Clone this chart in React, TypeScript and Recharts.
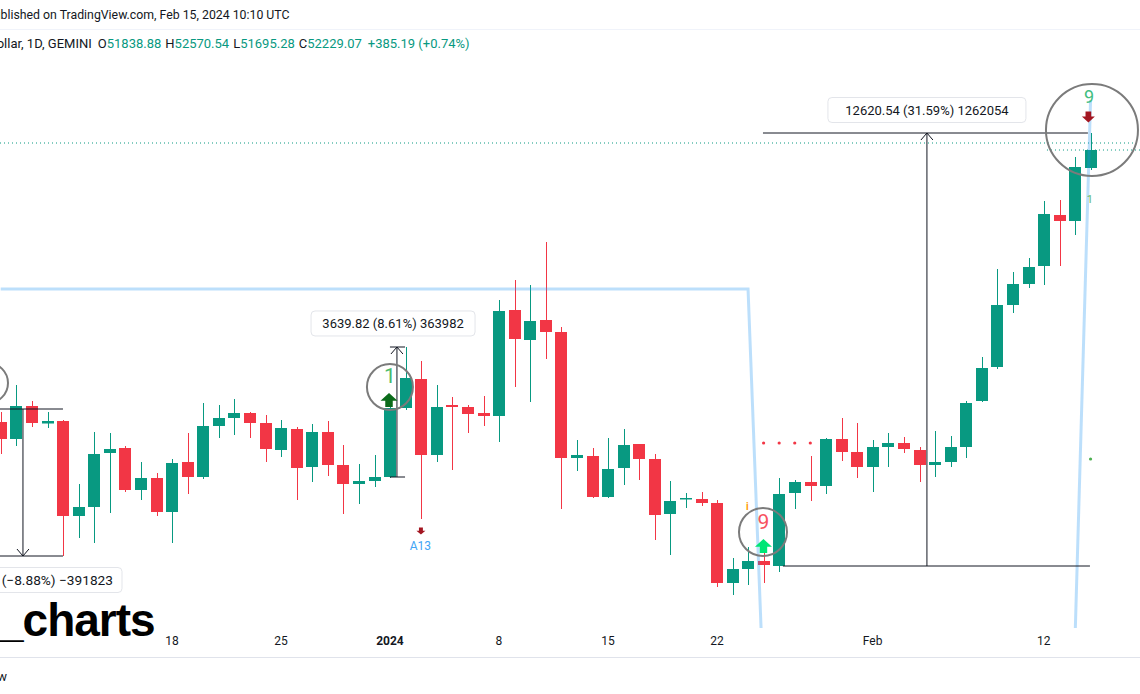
import React from 'react'
import {
  Bar,
  ComposedChart,
  Line,
  ReferenceDot,
  ReferenceLine,
  Scatter,
  XAxis,
  YAxis,
} from 'recharts'

// one candle per day, Dec 7 2023 .. Feb 15 2024 (BTC/USD, 1D, GEMINI)
const days = [
  'Dec 7', 'Dec 8', 'Dec 9', 'Dec 10', 'Dec 11', 'Dec 12', 'Dec 13', 'Dec 14', 'Dec 15', 'Dec 16',
  'Dec 17', 'Dec 18', 'Dec 19', 'Dec 20', 'Dec 21', 'Dec 22', 'Dec 23', 'Dec 24', 'Dec 25', 'Dec 26',
  'Dec 27', 'Dec 28', 'Dec 29', 'Dec 30', 'Dec 31', 'Jan 1', 'Jan 2', 'Jan 3', 'Jan 4', 'Jan 5',
  'Jan 6', 'Jan 7', 'Jan 8', 'Jan 9', 'Jan 10', 'Jan 11', 'Jan 12', 'Jan 13', 'Jan 14', 'Jan 15',
  'Jan 16', 'Jan 17', 'Jan 18', 'Jan 19', 'Jan 20', 'Jan 21', 'Jan 22', 'Jan 23', 'Jan 24', 'Jan 25',
  'Jan 26', 'Jan 27', 'Jan 28', 'Jan 29', 'Jan 30', 'Jan 31', 'Feb 1', 'Feb 2', 'Feb 3', 'Feb 4',
  'Feb 5', 'Feb 6', 'Feb 7', 'Feb 8', 'Feb 9', 'Feb 10', 'Feb 11', 'Feb 12', 'Feb 13', 'Feb 14',
  'Feb 15',
]

const opens = [
  44202, 43709, 44666, 44158, 44231, 41476, 41737, 43303, 43448, 42230,
  42578, 41592, 43042, 42607, 44086, 44318, 44463, 44173, 43390, 43999,
  42897, 43912, 42955, 42404, 42491, 42607, 44608, 45449, 43245, 44695,
  44637, 44463, 44376, 47450, 46580, 47160, 46812, 43158, 43216, 42027,
  42868, 43564, 43129, 41534, 41955, 41969, 41853, 39533, 39939, 40171,
  40026, 42143, 42462, 42346, 43709, 43332, 42897, 43477, 43593, 43390,
  42955, 43042, 43477, 44811, 45797, 47595, 48204, 48726, 50205, 50031,
  51568,
]
const highs = [
  44492, 45275, 44811, 44492, 44260, 42404, 43912, 43883, 43506, 43042,
  42723, 43129, 43883, 44753, 44695, 44869, 44492, 44405, 44260, 44057,
  44144, 44231, 43535, 42984, 43245, 44840, 46377, 45971, 45275, 44927,
  44695, 44956, 47740, 48320, 48175, 49422, 46957, 43680, 43448, 43738,
  43999, 43564, 43274, 42491, 42143, 42172, 41940, 40258, 40577, 40403,
  42578, 42520, 43216, 43738, 44318, 44173, 43680, 43883, 43767, 43477,
  43941, 43796, 44811, 46087, 48639, 48552, 48958, 50611, 50640, 51887,
  52583,
]
const lows = [
  43274, 43506, 44057, 44028, 40316, 40838, 40693, 41563, 42172, 41940,
  41476, 40693, 42114, 42549, 43738, 43825, 43738, 43042, 43187, 41940,
  42462, 42636, 41534, 41824, 42317, 42578, 44550, 41389, 43042, 42810,
  43883, 44086, 43622, 45217, 44782, 46029, 41679, 42781, 41998, 41998,
  42375, 42520, 40780, 40345, 41708, 41766, 39417, 39185, 39475, 39533,
  39852, 41679, 41911, 42114, 43071, 42578, 42172, 42897, 43303, 42462,
  42607, 42897, 43158, 44782, 45739, 47363, 48088, 48175, 48726, 49625,
  51510,
]
const closes = [
  43709, 44666, 44173, 44231, 41476, 41737, 43274, 43419, 42230, 42578,
  41592, 43013, 42607, 44086, 44318, 44463, 44173, 43419, 44028, 42868,
  43912, 42955, 42404, 42491, 42607, 44608, 45478, 43245, 44637, 44637,
  44434, 44376, 47421, 46609, 47131, 46812, 43158, 43245, 42027, 42839,
  43535, 43129, 41505, 41911, 41998, 41853, 39533, 39939, 40171, 40055,
  42114, 42462, 42346, 43709, 43332, 42897, 43477, 43593, 43419, 42955,
  43042, 43477, 44753, 45768, 47595, 48204, 48697, 50234, 50031, 51597,
  52090,
]

// light blue indicator line (drops off the pane between Jan 25 and Feb 14)
const bandLine = [
  48059, 48059, 48059, 48059, 48059, 48059, 48059, 48059, 48059, 48059,
  48059, 48059, 48059, 48059, 48059, 48059, 48059, 48059, 48059, 48059,
  48059, 48059, 48059, 48059, 48059, 48059, 48059, 48059, 48059, 48059,
  48059, 48059, 48059, 48059, 48059, 48059, 48059, 48059, 48059, 48059,
  48059, 48059, 48059, 48059, 48059, 48059, 48059, 48059, 48059, 36300,
  null, null, null, null, null, null, null, null, null, null,
  null, null, null, null, null, null, null, null, null, 37880,
  53540,
]

const redDots = [
  { day: 49, value: 43593 },
  { day: 50, value: 43593 },
  { day: 51, value: 43593 },
  { day: 52, value: 43593 },
]
const greenDots = [{ day: 70, value: 43129 }]

const tickDays = [11, 18, 25, 32, 39, 46, 56, 67]
const tickLabels = ['18', '25', '2024', '8', '15', '22', 'Feb', '12']

const rows = days.map((label, i) => ({
  day: i,
  label,
  open: opens[i],
  high: highs[i],
  low: lows[i],
  close: closes[i],
  band: bandLine[i],
}))

const GREEN = '#089981'
const RED = '#F23645'
const INK = '#131722'
const FONT = 'Roboto, "Noto Sans", sans-serif'

function Candle(props: any) {
  const { x, y, width, height, payload } = props
  if (!payload || x == null || y == null) return null
  const { open, close, high, low } = payload
  const top = Math.min(y, y + height)
  const bottom = Math.max(y, y + height)
  const k = high === low ? 0 : (bottom - top) / (high - low)
  const yOf = (v: number) => top + (high - v) * k
  const color = close >= open ? GREEN : RED
  const cx = Math.round(x + width / 2) + 0.5
  const bodyTop = yOf(Math.max(open, close))
  const bodyH = Math.max(1, yOf(Math.min(open, close)) - bodyTop)
  return (
    <g>
      <line x1={cx} x2={cx} y1={top} y2={bottom} stroke={color} strokeWidth={1} />
      <rect x={cx - 6.5} y={bodyTop} width={12} height={bodyH} fill={color} />
    </g>
  )
}

function DayTick({ x, y, payload }: any) {
  const label = tickLabels[tickDays.indexOf(payload.value)]
  return (
    <text x={x} y={y} dy={17} textAnchor="middle" fontSize={12} fontFamily={FONT}
      fontWeight={label === '2024' ? 700 : 400} fill={INK}>
      {label}
    </text>
  )
}

function Arrow({ cx, cy, w, h, color, dir }: any) {
  const hw = w / 2
  const sw = w * 0.22
  const head = h * 0.55
  const s = dir === 'up' ? 1 : -1
  const tip = cy - (s * h) / 2
  const base = tip + s * head
  const end = cy + (s * h) / 2
  const d = `M${cx - hw},${base} L${cx},${tip} L${cx + hw},${base} L${cx + sw},${base} L${cx + sw},${end} L${cx - sw},${end} L${cx - sw},${base} Z`
  return <path d={d} fill={color} />
}

function Chevron({ cx, cy, dir }: any) {
  const s = dir === 'up' ? 1 : -1
  return (
    <polyline points={`${cx - 6},${cy + s * 7} ${cx},${cy} ${cx + 6},${cy + s * 7}`}
      fill="none" stroke={INK} strokeWidth={1} />
  )
}

function Ring({ cx, cy, r }: any) {
  return <circle cx={cx} cy={cy} r={r} fill="none" stroke="#7b7b7b" strokeWidth={2} />
}

function Glyph({ cx, cy, text, size, color, weight }: any) {
  return (
    <text x={cx} y={cy} textAnchor="middle" dominantBaseline="central" fontSize={size}
      fontFamily={FONT} fontWeight={weight || 400} fill={color}>
      {text}
    </text>
  )
}

function MeasureBox({ cx, cy, text, w, anchor, size }: any) {
  const left = anchor === 'right' ? cx - w : cx - w / 2
  return (
    <g>
      <rect x={left} y={cy - 12.5} width={w} height={25} rx={4} fill="#fff"
        stroke="#e3e5ea" strokeWidth={1} />
      <text x={anchor === 'right' ? cx - 9 : cx} y={cy} textAnchor={anchor === 'right' ? 'end' : 'middle'}
        dominantBaseline="central" fontSize={size || 13} fontFamily={FONT} fill={INK}>
        {text}
      </text>
    </g>
  )
}

const seg = (x1: number, y1: number, x2: number, y2: number) => [
  { x: x1, y: y1 },
  { x: x2, y: y2 },
]

export default function App() {
  const spot = (x: number, y: number, shape: any) => (
    <ReferenceDot x={x} y={y} r={0} ifOverflow="visible" shape={shape} />
  )
  const rule = (s: any) => (
    <ReferenceLine segment={s} stroke={INK} strokeWidth={1} ifOverflow="visible" />
  )

  return (
    <div style={{ position: 'fixed', left: 0, top: 0, width: 1140, height: 694, overflow: 'hidden', background: '#fff', fontFamily: FONT, color: INK }}>
      <div style={{ position: 'absolute', left: -14, top: 8, fontSize: 12.3, whiteSpace: 'nowrap' }}>
        Published on TradingView.com, Feb 15, 2024 10:10 UTC
      </div>
      <div style={{ position: 'absolute', left: 0, top: 29, width: 1140, height: 1, background: '#f0f3fa' }} />
      <div style={{ position: 'absolute', left: -90, top: 36, fontSize: 13, whiteSpace: 'nowrap' }}>
        <span>Bitcoin / U.S. Dollar, 1D, GEMINI</span>
        <span style={{ marginLeft: 6 }}>O<span style={{ color: GREEN }}>51838.88</span></span>
        <span style={{ marginLeft: 4 }}>H<span style={{ color: GREEN }}>52570.54</span></span>
        <span style={{ marginLeft: 4 }}>L<span style={{ color: GREEN }}>51695.28</span></span>
        <span style={{ marginLeft: 4 }}>C<span style={{ color: GREEN }}>52229.07</span></span>
        <span style={{ marginLeft: 6, color: GREEN }}>+385.19 (+0.74%)</span>
      </div>

      <ComposedChart width={1140} height={694} data={rows}
        margin={{ top: 60, right: 0, bottom: 37, left: 0 }}
        style={{ position: 'absolute', left: 0, top: 0 }}>
        <XAxis type="number" dataKey="day" domain={[-0.045, 73.175]} allowDataOverflow
          ticks={tickDays} interval={0} tick={<DayTick />} axisLine={false} tickLine={false}
          tickSize={0} tickMargin={0} height={29} />
        <YAxis hide type="number" domain={[38228, 54700]} allowDataOverflow />

        <ReferenceLine y={52293} stroke={GREEN} strokeDasharray="1 3" ifOverflow="visible" />
        <ReferenceLine segment={seg(67.2, 52090, 73.175, 52090)} stroke={GREEN}
          strokeDasharray="1 3" ifOverflow="visible" />

        <Bar dataKey={(d: any) => [d.low, d.high]} barSize={12} isAnimationActive={false}
          shape={(p: any) => <Candle {...p} />} />

        <Line dataKey="band" type="linear" stroke="#2196f3" strokeOpacity={0.3} strokeWidth={3}
          dot={false} connectNulls={false} isAnimationActive={false} />

        <Scatter data={redDots} dataKey="value" isAnimationActive={false}
          shape={(p: any) => <circle cx={p.cx} cy={p.cy} r={1.6} fill={RED} />} />
        <Scatter data={greenDots} dataKey="value" isAnimationActive={false}
          shape={(p: any) => <circle cx={p.cx} cy={p.cy} r={1.6} fill="#4caf50" />} />

        {/* left measure */}
        {rule(seg(-0.4, 44579, 4.0, 44579))}
        {rule(seg(-0.4, 40316, 4.0, 40316))}
        {rule(seg(1.43, 44579, 1.43, 40316))}
        {spot(1.43, 40316, (p: any) => <Chevron cx={p.cx} cy={p.cy} dir="down" />)}
        {spot(7.79, 39620, (p: any) => <MeasureBox cx={p.cx} cy={p.cy} w={205} anchor="right" size={13.7} text="−3918.23 (−8.88%) −391823" />)}

        {/* middle measure */}
        {rule(seg(25.0, 46377, 25.97, 46377))}
        {rule(seg(25.0, 42607, 25.97, 42607))}
        {rule(seg(25.45, 46377, 25.45, 42607))}
        {spot(25.45, 46377, (p: any) => <Chevron cx={p.cx} cy={p.cy} dir="up" />)}
        {spot(25.2, 47059, (p: any) => <MeasureBox cx={p.cx} cy={p.cy} w={164} text="3639.82 (8.61%) 363982" />)}

        {/* big measure */}
        {rule(seg(48.96, 52583, 69.83, 52583))}
        {rule(seg(50.24, 40026, 69.96, 40026))}
        {rule(seg(59.49, 52583, 59.49, 40026))}
        {spot(59.49, 52583, (p: any) => <Chevron cx={p.cx} cy={p.cy} dir="up" />)}
        {spot(59.49, 53250, (p: any) => <MeasureBox cx={p.cx} cy={p.cy} w={198} text="12620.54 (31.59%) 1262054" />)}

        {/* rings and signals */}
        {spot(-0.816, 45333, (p: any) => <Ring cx={p.cx} cy={p.cy} r={20} />)}
        {spot(25.0, 45217, (p: any) => <Ring cx={p.cx} cy={p.cy} r={23} />)}
        {spot(48.96, 41012, (p: any) => <Ring cx={p.cx} cy={p.cy} r={24} />)}
        {spot(70.09, 52670, (p: any) => <Ring cx={p.cx} cy={p.cy} r={46} />)}

        {spot(25.0, 45536, (p: any) => <Glyph cx={p.cx} cy={p.cy} text="1" size={21} color="#4cbb6c" />)}
        {spot(24.94, 44840, (p: any) => <Arrow cx={p.cx} cy={p.cy} w={17} h={14} color="#0b6b1a" dir="up" />)}
        {spot(48.99, 41316, (p: any) => <Glyph cx={p.cx} cy={p.cy} text="9" size={21} color="#f7525f" />)}
        {spot(48.99, 40606, (p: any) => <Arrow cx={p.cx} cy={p.cy} w={17} h={14} color="#00e676" dir="up" />)}
        {spot(69.9, 53656, (p: any) => <Glyph cx={p.cx} cy={p.cy} text="9" size={18} color="#42bd7f" />)}
        {spot(69.86, 53047, (p: any) => <Arrow cx={p.cx} cy={p.cy} w={13} h={11} color="#a31621" dir="down" />)}
        {spot(69.96, 50669, (p: any) => <Glyph cx={p.cx} cy={p.cy} text="1" size={11} color="#66bb6a" />)}
        {spot(47.96, 41766, (p: any) => <Glyph cx={p.cx} cy={p.cy} text="i" size={10} color="#ff9800" weight={700} />)}
        {spot(26.99, 41041, (p: any) => <Arrow cx={p.cx} cy={p.cy} w={9} h={7} color="#a31621" dir="down" />)}
        {spot(26.96, 40606, (p: any) => <Glyph cx={p.cx} cy={p.cy} text="A13" size={12} color="#42a5f5" />)}
      </ComposedChart>

      <div style={{ position: 'absolute', left: -2, top: 594, fontSize: 46, fontWeight: 700, letterSpacing: -1, lineHeight: '52px', fontFamily: '"Liberation Sans", Arial, sans-serif', color: '#000', whiteSpace: 'nowrap' }}>
        _charts
      </div>
      <div style={{ position: 'absolute', left: 0, top: 657, width: 1140, height: 1, background: '#e0e3eb' }} />
      <div style={{ position: 'absolute', right: 1133, top: 669, fontSize: 13, whiteSpace: 'nowrap' }}>
        TradingView
      </div>
    </div>
  )
}
